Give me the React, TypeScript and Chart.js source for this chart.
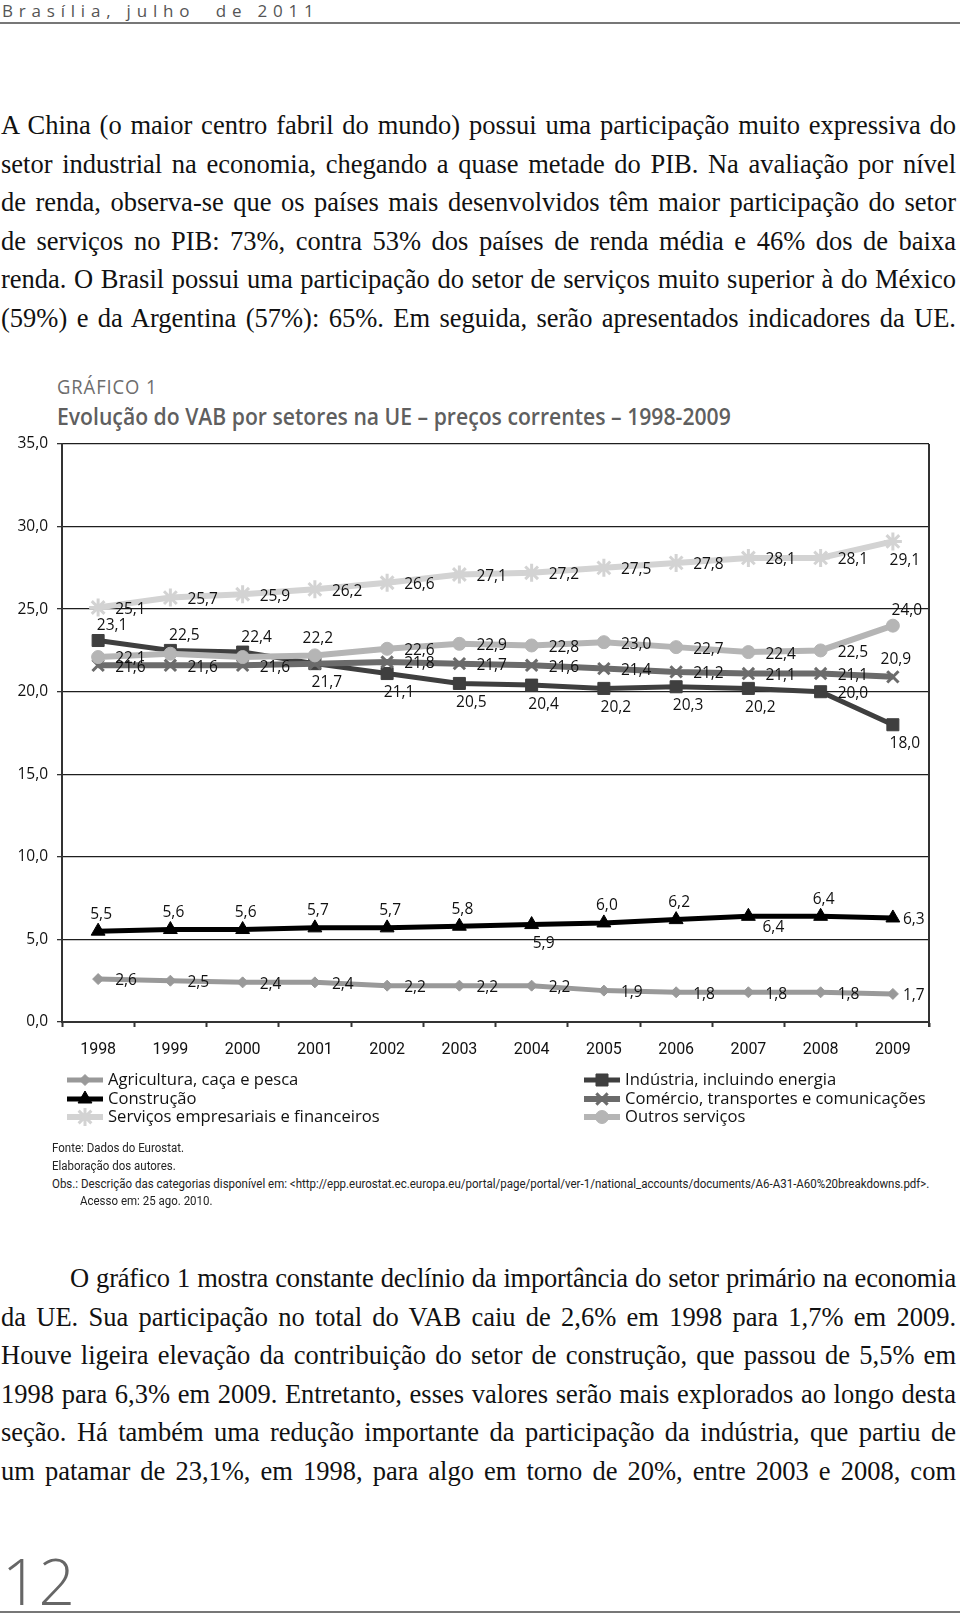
import React, { useEffect, useRef } from 'react';
import { Chart, registerables } from 'chart.js';
import { drawPoint } from 'chart.js/helpers';

Chart.register(...registerables);

// ---------- data ----------
const years = ['1998', '1999', '2000', '2001', '2002', '2003', '2004', '2005', '2006', '2007', '2008', '2009'];
const agricultura = [2.6, 2.5, 2.4, 2.4, 2.2, 2.2, 2.2, 1.9, 1.8, 1.8, 1.8, 1.7];
const industria = [23.1, 22.5, 22.4, 21.7, 21.1, 20.5, 20.4, 20.2, 20.3, 20.2, 20.0, 18.0];
const construcao = [5.5, 5.6, 5.6, 5.7, 5.7, 5.8, 5.9, 6.0, 6.2, 6.4, 6.4, 6.3];
const comercio = [21.6, 21.6, 21.6, 21.7, 21.8, 21.7, 21.6, 21.4, 21.2, 21.1, 21.1, 20.9];
const servicosEmpresariais = [25.1, 25.7, 25.9, 26.2, 26.6, 27.1, 27.2, 27.5, 27.8, 28.1, 28.1, 29.1];
const outrosServicos = [22.1, 22.3, 22.1, 22.2, 22.6, 22.9, 22.8, 23.0, 22.7, 22.4, 22.5, 24.0];

const seriesNames = [
  'Agricultura, caça e pesca',
  'Indústria, incluindo energia',
  'Construção',
  'Comércio, transportes e comunicações',
  'Serviços empresariais e financeiros',
  'Outros serviços',
];

const yMin = 0;
const yMax = 35;
const yStep = 5;

// ---------- label placement (style only) ----------
const R = 'r', RN = 'rn', A = 'a', AR = 'ar', B = 'b', BR = 'br', N = 'n';
const labelPlacement: string[][] = [
  [R, R, R, R, R, R, R, R, R, R, R, RN],
  [AR, AR, AR, B, B, B, B, B, B, B, R, B],
  [A, A, A, A, A, A, B, A, A, BR, A, RN],
  [R, R, R, N, R, R, R, R, R, R, R, A],
  [R, R, R, R, R, R, R, R, R, R, R, B],
  [R, N, N, A, R, R, R, R, R, R, R, AR],
];
const placementOffsets: Record<string, { dx: number; dy: number; align: CanvasTextAlign }> = {
  r: { dx: 17, dy: 2, align: 'left' },
  rn: { dx: 10, dy: 2, align: 'left' },
  a: { dx: 3, dy: -17, align: 'center' },
  ar: { dx: 14, dy: -15, align: 'center' },
  b: { dx: 12, dy: 19, align: 'center' },
  br: { dx: 25, dy: 11, align: 'center' },
};

const fmt = (v: number) => v.toFixed(1).replace('.', ',');

const valueLabelsPlugin = {
  id: 'valueLabels',
  afterDatasetsDraw(chart: any) {
    const ctx = chart.ctx;
    ctx.save();
    ctx.font = '15.5px "Open Sans"';
    ctx.fillStyle = '#111';
    ctx.textBaseline = 'middle';
    chart.data.datasets.forEach((ds: any, di: number) => {
      const meta = chart.getDatasetMeta(di);
      meta.data.forEach((pt: any, i: number) => {
        const p = labelPlacement[di][i];
        if (p === N) return;
        const o = placementOffsets[p];
        ctx.textAlign = o.align;
        ctx.fillText(fmt(ds.data[i]), pt.x + o.dx, pt.y + o.dy);
      });
    });
    ctx.restore();
  },
};

const frameAndLegendPlugin = {
  id: 'frameAndLegend',
  beforeDatasetsDraw(chart: any) {
    const { ctx, chartArea } = chart;
    ctx.save();
    ctx.strokeStyle = '#333';
    ctx.lineWidth = 2;
    ctx.beginPath();
    ctx.moveTo(chartArea.right, chartArea.top);
    ctx.lineTo(chartArea.right, chartArea.bottom + 5);
    ctx.stroke();
    ctx.restore();
  },
  afterDraw(chart: any) {
    const ctx = chart.ctx;
    const colX = [67, 584];
    const rowY = [700, 719, 737];
    ctx.save();
    chart.data.datasets.forEach((ds: any, i: number) => {
      const x0 = colX[i % 2];
      const y = rowY[Math.floor(i / 2)];
      ctx.strokeStyle = ds.borderColor;
      ctx.lineWidth = ds.borderWidth;
      ctx.beginPath();
      ctx.moveTo(x0, y);
      ctx.lineTo(x0 + 36, y);
      ctx.stroke();
      ctx.fillStyle = ds.pointBackgroundColor;
      ctx.strokeStyle = ds.pointBorderColor;
      ctx.lineWidth = ds.pointBorderWidth;
      drawPoint(ctx, { pointStyle: ds.pointStyle, rotation: 0, radius: ds.pointRadius, borderWidth: ds.pointBorderWidth }, x0 + 18, y);
      ctx.fillStyle = '#111';
      ctx.font = '16.6px "Open Sans"';
      ctx.textAlign = 'left';
      ctx.textBaseline = 'middle';
      ctx.fillText(seriesNames[i], x0 + 41, y);
    });
    ctx.restore();
  },
};

const seriesStyles = [
  { color: '#999999', width: 5, style: 'rectRot', radius: 5.5, pbw: 1 },
  { color: '#3f3f3f', width: 5, style: 'rect', radius: 8.5, pbw: 1 },
  { color: '#000000', width: 5, style: 'triangle', radius: 8, pbw: 1 },
  { color: '#6b6b6b', width: 6, style: 'crossRot', radius: 8, pbw: 3 },
  { color: '#d3d3d3', width: 6, style: 'star', radius: 9, pbw: 3 },
  { color: '#b5b5b5', width: 6, style: 'circle', radius: 6.5, pbw: 1 },
];

const seriesValues = [agricultura, industria, construcao, comercio, servicosEmpresariais, outrosServicos];

function VabChart() {
  const ref = useRef<HTMLCanvasElement>(null);
  useEffect(() => {
    if (!ref.current) return;
    const chart = new Chart(ref.current, {
      type: 'line',
      data: {
        labels: years,
        datasets: seriesValues.map((vals, i) => ({
          label: seriesNames[i],
          data: vals,
          borderColor: seriesStyles[i].color,
          backgroundColor: seriesStyles[i].color,
          borderWidth: seriesStyles[i].width,
          pointStyle: seriesStyles[i].style as any,
          pointRadius: seriesStyles[i].radius,
          pointBackgroundColor: seriesStyles[i].color,
          pointBorderColor: seriesStyles[i].color,
          pointBorderWidth: seriesStyles[i].pbw,
          tension: 0,
          order: -i,
        })),
      },
      options: {
        responsive: false,
        animation: false,
        events: [],
        layout: { padding: { top: 64, right: 31, left: 0, bottom: 73 } },
        plugins: { legend: { display: false }, tooltip: { enabled: false } },
        scales: {
          x: {
            type: 'category',
            offset: true,
            grid: { offset: true, drawOnChartArea: false, drawTicks: true, tickLength: 5, tickColor: '#333', tickWidth: 2 },
            border: { display: true, color: '#333', width: 2 },
            ticks: { color: '#111', font: { family: 'Roboto', size: 16 }, padding: 13, maxRotation: 0 },
            afterFit: (s: any) => { s.height = 45; },
          },
          y: {
            min: yMin,
            max: yMax,
            grid: { color: '#1e1e1e', lineWidth: 1.3, tickLength: 5, tickColor: '#333' },
            border: { display: true, color: '#333', width: 2 },
            ticks: { stepSize: yStep, color: '#111', font: { family: 'Open Sans', size: 15.5 }, padding: 9, callback: (v: any) => fmt(Number(v)) },
            afterFit: (s: any) => { s.width = 62; },
          },
        },
      },
      plugins: [frameAndLegendPlugin, valueLabelsPlugin],
    });
    return () => chart.destroy();
  }, []);
  return <canvas ref={ref} width={960} height={760} style={{ position: 'absolute', left: 0, top: 380, width: 960, height: 760 }} />;
}

const para1 = [
  'A China (o maior centro fabril do mundo) possui uma participação muito expressiva do',
  'setor industrial na economia, chegando a quase metade do PIB. Na avaliação por nível',
  'de renda, observa-se que os países mais desenvolvidos têm maior participação do setor',
  'de serviços no PIB: 73%, contra 53% dos países de renda média e 46% dos de baixa',
  'renda. O Brasil possui uma participação do setor de serviços muito superior à do México',
  '(59%) e da Argentina (57%): 65%. Em seguida, serão apresentados indicadores da UE.',
];
const para2 = [
  'O gráfico 1 mostra constante declínio da importância do setor primário na economia',
  'da UE. Sua participação no total do VAB caiu de 2,6% em 1998 para 1,7% em 2009.',
  'Houve ligeira elevação da contribuição do setor de construção, que passou de 5,5% em',
  '1998 para 6,3% em 2009. Entretanto, esses valores serão mais explorados ao longo desta',
  'seção. Há também uma redução importante da participação da indústria, que partiu de',
  'um patamar de 23,1%, em 1998, para algo em torno de 20%, entre 2003 e 2008, com',
];

function JLine({ text, top, left, tight }: { text: string; top: number; left: number; tight?: boolean }) {
  return (
    <div
      style={{
        position: 'absolute',
        left,
        top,
        width: 956 - left,
        fontFamily: '"Liberation Serif", serif',
        fontSize: 26.5,
        lineHeight: '38px',
        textAlign: 'justify',
        textAlignLast: 'justify' as any,
        wordSpacing: tight ? -4 : 0,
        letterSpacing: tight ? -0.2 : 0,
        color: '#111',
      }}
    >
      {text}
    </div>
  );
}

const notes = [
  { t: 'Fonte: Dados do Eurostat.', top: 1139, left: 52 },
  { t: 'Elaboração dos autores.', top: 1157, left: 52 },
  { t: 'Obs.: Descrição das categorias disponível em: <http://epp.eurostat.ec.europa.eu/portal/page/portal/ver-1/national_accounts/documents/A6-A31-A60%20breakdowns.pdf>.', top: 1175, left: 52 },
  { t: 'Acesso em: 25 ago. 2010.', top: 1192, left: 80 },
];

export default function App() {
  return (
    <div style={{ position: 'absolute', left: 0, top: 0, width: 960, height: 1615, background: '#fff', overflow: 'hidden' }}>
      <div style={{ position: 'absolute', left: 2, top: 1, fontFamily: '"Open Sans", sans-serif', fontSize: 17, letterSpacing: 5.8, whiteSpace: 'pre', color: '#555', lineHeight: '20px' }}>
        {'Brasília, julho  de 2011'}
      </div>
      <div style={{ position: 'absolute', left: 0, top: 22, width: 960, height: 1.5, background: '#777' }} />

      {para1.map((t, i) => (
        <JLine key={'p1' + i} text={t} top={106 + i * 38.5} left={1} />
      ))}

      <div style={{ position: 'absolute', left: 57, top: 374, fontFamily: '"Open Sans", sans-serif', fontSize: 20, letterSpacing: 1, color: '#6d6d6d', lineHeight: '26px', transform: 'scaleX(0.92)', transformOrigin: 'left', whiteSpace: 'nowrap' }}>
        GRÁFICO 1
      </div>
      <div style={{ position: 'absolute', left: 57, top: 402, fontFamily: '"Open Sans", sans-serif', fontWeight: 600, fontSize: 23, color: '#5f5f5f', lineHeight: '28px', transform: 'scaleX(0.92)', transformOrigin: 'left', whiteSpace: 'nowrap' }}>
        Evolução do VAB por setores na UE – preços correntes – 1998-2009
      </div>

      <VabChart />

      {notes.map((n, i) => (
        <div key={'n' + i} style={{ position: 'absolute', left: n.left, top: n.top, fontFamily: 'Roboto, sans-serif', fontSize: 12.5, lineHeight: '18px', color: '#222', whiteSpace: 'nowrap', transform: 'scaleX(0.92)', transformOrigin: 'left' }}>
          {n.t}
        </div>
      ))}

      {para2.map((t, i) => (
        <JLine key={'p2' + i} text={t} top={1259 + i * 38.5} left={i === 0 ? 70 : 1} tight={i === 0} />
      ))}

      <div style={{ position: 'absolute', left: 2, top: 1549, fontFamily: '"Open Sans", sans-serif', fontWeight: 300, fontSize: 64, lineHeight: '64px', color: '#666' }}>
        12
      </div>
      <div style={{ position: 'absolute', left: 0, top: 1611, width: 960, height: 1.5, background: '#777' }} />
    </div>
  );
}
